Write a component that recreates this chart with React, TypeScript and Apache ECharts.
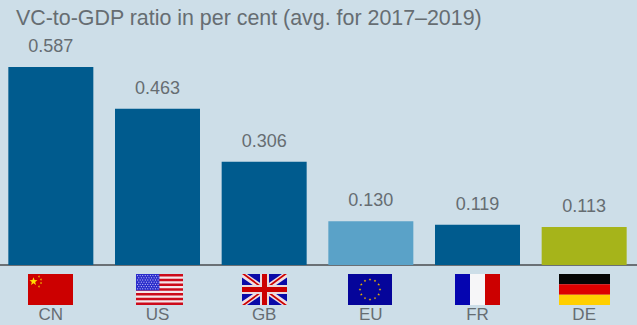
import React, { useEffect, useRef } from "react";
import * as echarts from "echarts";

const titleText = "VC-to-GDP ratio in per cent (avg. for 2017–2019)";
const countries = ["CN", "US", "GB", "EU", "FR", "DE"];
const ratios = [0.587, 0.463, 0.306, 0.13, 0.119, 0.113];
const barColors = ["#005b8e", "#005b8e", "#005b8e", "#5aa2c8", "#005b8e", "#a6b41a"];

const GREY = "#666d72";
const TOP = 274;
const H = 31;

const rect = (x: number, y: number, width: number, height: number, fill: string) => ({
  type: "rect",
  silent: true,
  shape: { x, y, width, height },
  style: { fill },
});
const poly = (points: number[][], fill: string) => ({
  type: "polygon",
  silent: true,
  shape: { points },
  style: { fill },
});
const dot = (cx: number, cy: number, r: number, fill: string) => ({
  type: "circle",
  silent: true,
  shape: { cx, cy, r },
  style: { fill },
});
const star = (cx: number, cy: number, r: number, fill: string) => {
  const points: number[][] = [];
  for (let i = 0; i < 10; i++) {
    const a = -Math.PI / 2 + (i * Math.PI) / 5;
    const d = i % 2 ? r * 0.42 : r;
    points.push([cx + d * Math.cos(a), cy + d * Math.sin(a)]);
  }
  return poly(points, fill);
};

function china(x: number) {
  return [
    rect(x, TOP, 45, H, "#cc0000"),
    star(x + 5.5, TOP + 7.5, 4.2, "#ffde00"),
    dot(x + 11, TOP + 2.5, 0.8, "#e9a400"),
    dot(x + 13, TOP + 5.5, 0.8, "#e9a400"),
    dot(x + 13, TOP + 9, 0.8, "#e9a400"),
    dot(x + 11, TOP + 12.5, 0.8, "#e9a400"),
  ];
}

function usa(x: number) {
  const w = 47;
  const out: any[] = [rect(x, TOP, w, H, "#f4e6ea")];
  for (let i = 0; i < 7; i++) out.push(rect(x, TOP + (i * H * 2) / 13, w, H / 13, "#cc0a1a"));
  out.push(rect(x, TOP, 23.5, 16.5, "#2a2ccc"));
  for (let r = 0; r < 7; r++) {
    for (let c = 0; c < 9; c++) {
      out.push(dot(x + 1.6 + c * 2.55 + (r % 2 ? 1.2 : 0), TOP + 1.6 + r * 2.2, 0.55, "#c4c6f2"));
    }
  }
  return out;
}

function britain(x: number) {
  const w = 45;
  const b = x + w;
  const y2 = TOP + H;
  const diag = (pts: number[][], c: string) => poly(pts, c);
  return [
    rect(x, TOP, w, H, "#0a0aa8"),
    diag([[x, TOP], [x + 5, TOP], [b, y2 - 3.5], [b, y2], [b - 5, y2], [x, TOP + 3.5]], "#f1dfe2"),
    diag([[b - 5, TOP], [b, TOP], [b, TOP + 3.5], [x + 5, y2], [x, y2], [x, y2 - 3.5]], "#f1dfe2"),
    diag([[x, TOP], [x + 3, TOP], [x + 22, TOP + 14], [x + 19, TOP + 14]], "#cc0000"),
    diag([[b - 3, y2], [b, y2], [b - 19, y2 - 14], [b - 22, y2 - 14]], "#cc0000"),
    diag([[b - 3, TOP], [b, TOP], [x + 26, TOP + 14], [x + 23, TOP + 14]], "#cc0000"),
    diag([[x + 3, y2], [x, y2], [x + 19, y2 - 14], [x + 22, y2 - 14]], "#cc0000"),
    rect(x, TOP + 11, w, 9, "#e9d8dc"),
    rect(x + 18, TOP, 9, H, "#e9d8dc"),
    rect(x, TOP + 13, w, 5, "#cc0000"),
    rect(x + 20, TOP, 5, H, "#cc0000"),
  ];
}

function europe(x: number) {
  const w = 44;
  const out: any[] = [rect(x, TOP, w, H, "#05059a")];
  for (let i = 0; i < 12; i++) {
    const a = (i * Math.PI) / 6;
    out.push(star(x + w / 2 + 10 * Math.sin(a), TOP + H / 2 - 10 * Math.cos(a), 1.4, "#e8b400"));
  }
  return out;
}

function france(x: number) {
  return [
    rect(x, TOP, 15, H, "#0505b0"),
    rect(x + 15, TOP, 15, H, "#f6f6f8"),
    rect(x + 30, TOP, 15, H, "#cc0000"),
  ];
}

function germany(x: number) {
  return [
    rect(x, TOP, 51, H / 3, "#050505"),
    rect(x, TOP + H / 3, 51, H / 3, "#dd0000"),
    rect(x, TOP + (2 * H) / 3, 51, H / 3, "#ffcf00"),
  ];
}

const flagShapes = [
  ...china(28),
  ...usa(136),
  ...britain(242),
  ...europe(348),
  ...france(455),
  ...germany(559),
];

export default function App() {
  const ref = useRef<HTMLDivElement>(null);

  useEffect(() => {
    const chart = echarts.init(ref.current!, null, { renderer: "svg" });
    chart.setOption({
      animation: false,
      backgroundColor: "#cddee8",
      textStyle: { fontFamily: "Liberation Sans" },
      title: {
        text: titleText,
        left: 11,
        top: 2,
        textStyle: { color: GREY, fontSize: 21.4, fontWeight: "normal", fontFamily: "Liberation Sans" },
      },
      grid: { left: -2.5, right: -0.5, top: 67, bottom: 60, outerBoundsMode: "none" },
      xAxis: {
        type: "category",
        data: countries,
        axisLine: { lineStyle: { color: "#6a7075", width: 2 } },
        axisTick: { show: false },
        axisLabel: { color: GREY, fontSize: 17, lineHeight: 17, margin: 41, fontFamily: "Liberation Sans" },
      },
      yAxis: { type: "value", min: 0, max: 0.587, show: false, splitLine: { show: false } },
      series: [
        {
          type: "bar",
          barWidth: 85,
          data: ratios.map((value, i) => ({ value, itemStyle: { color: barColors[i] } })),
          label: {
            show: true,
            position: "top",
            distance: 12,
            color: GREY,
            fontSize: 18,
            fontFamily: "Liberation Sans",
            formatter: (p: any) => p.value.toFixed(3),
          },
        },
      ],
      graphic: flagShapes,
    });
    return () => chart.dispose();
  }, []);

  return <div ref={ref} style={{ position: "fixed", left: 0, top: 0, width: 637, height: 325 }} />;
}
